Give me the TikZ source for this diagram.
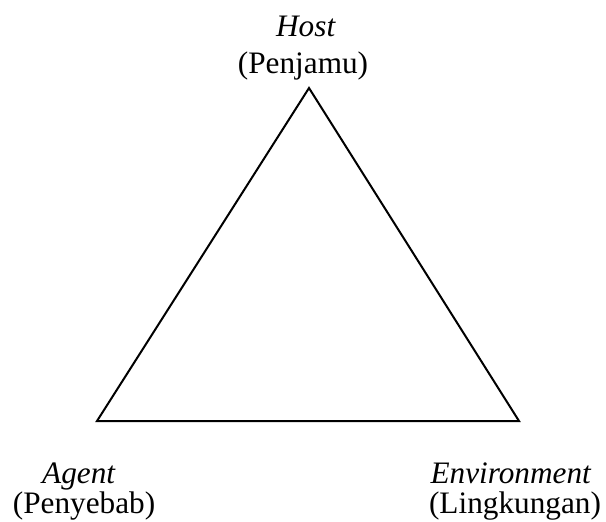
\documentclass[tikz,border=0pt]{standalone}
\usepackage{fontspec}
\setmainfont{Liberation Serif}
\usepackage{tikz}

\begin{document}
\begin{tikzpicture}[
    x=0.4pt, y=-0.4pt,
    lbl/.style={font=\fontsize{12.5}{15}\selectfont, inner sep=0pt, anchor=base},
    side/.style={line width=0.8pt, line join=miter}
]
\useasboundingbox (0,0) rectangle (606,521);

% Corners
\coordinate (H) at (309,88);
\coordinate (A) at (97,421);
\coordinate (E) at (519,421);

\draw[side] (H) -- (A) -- (E) -- cycle;

% Host
\node[lbl] (host) at (306,36) {\textit{Host}};
\node[lbl] (penjamu) at (303,73) {(Penjamu)};

% Agent
\node[lbl] (agent) at (79,483) {\textit{Agent}};
\node[lbl] (penyebab) at (84,513) {(Penyebab)};

% Environment
\node[lbl] (env) at (511,483) {\textit{Environment}};
\node[lbl] (lingkungan) at (515,513) {(Lingkungan)};

\end{tikzpicture}
\end{document}
